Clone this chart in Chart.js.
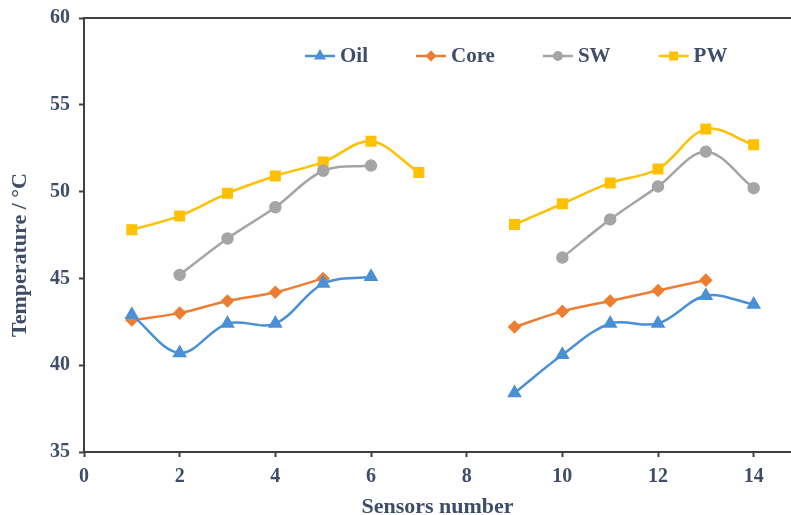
<!DOCTYPE html>
<html>
<head>
<meta charset="utf-8">
<script src="https://cdn.jsdelivr.net/npm/chart.js@4.4.1/dist/chart.umd.min.js"></script>
<style>
  html, body { margin: 0; padding: 0; background: #fff; }
  #wrap { width: 791px; height: 515px; position: relative; }
</style>
</head>
<body>
<div id="wrap"><canvas id="chart"></canvas></div>
<script>
// valeurs
const sensors = [1, 2, 3, 4, 5, 6, 7, 8, 9, 10, 11, 12, 13, 14];
const oil  = [42.9, 40.7, 42.4, 42.4, 44.7, 45.1, null, null, 38.4, 40.6, 42.4, 42.4, 44.0, 43.5];
const core = [42.6, 43.0, 43.7, 44.2, 45.0, null, null, null, 42.2, 43.1, 43.7, 44.3, 44.9, null];
const sw   = [null, 45.2, 47.3, 49.1, 51.2, 51.5, null, null, null, 46.2, 48.4, 50.3, 52.3, 50.2];
const pw   = [47.8, 48.6, 49.9, 50.9, 51.7, 52.9, 51.1, null, 48.1, 49.3, 50.5, 51.3, 53.6, 52.7];
const xTicks = [0, 2, 4, 6, 8, 10, 12, 14];
const yTicks = [35, 40, 45, 50, 55, 60];
const yTitle = 'Temperature / °C';

const textColor = '#3f4d69';
const axisColor = '#404040';
const serif = '"Liberation Serif", "Times New Roman", serif';
const font = { family: serif, weight: 'bold', size: 20 };

function points(values) {
    return sensors.map((s, i) => ({ x: s, y: values[i] }));
}

function serie(label, values, color, style, radius) {
    return {
        label: label,
        data: points(values),
        borderColor: color,
        backgroundColor: color,
        borderWidth: 2.5,
        pointStyle: style,
        pointRadius: radius,
        pointHoverRadius: radius,
        tension: 0.35,
        spanGaps: false
    };
}

// légende + titre Y + cadre du haut, dessinés à la main
const extras = {
    id: 'extras',
    beforeDatasetsDraw(chart) {
        const a = chart.chartArea;
        const ctx = chart.ctx;
        ctx.save();
        ctx.strokeStyle = axisColor;
        ctx.lineWidth = 2;
        ctx.beginPath();
        ctx.moveTo(a.left, a.top);
        ctx.lineTo(a.right, a.top);
        ctx.stroke();
        ctx.restore();
    },
    afterDraw(chart) {
        const ctx = chart.ctx;
        const y = chart.chartArea.top + 38;
        let x = 305;
        ctx.save();
        ctx.font = 'bold 21px ' + serif;
        ctx.textBaseline = 'middle';
        chart.data.datasets.forEach(ds => {
            ctx.strokeStyle = ds.borderColor;
            ctx.fillStyle = ds.borderColor;
            ctx.lineWidth = 2.5;
            ctx.beginPath();
            ctx.moveTo(x, y);
            ctx.lineTo(x + 30, y);
            ctx.stroke();
            Chart.helpers.drawPoint(ctx, {
                pointStyle: ds.pointStyle,
                radius: ds.pointRadius * 0.75,
                borderWidth: 1
            }, x + 15, y);
            ctx.fillStyle = textColor;
            ctx.fillText(ds.label, x + 35, y + 1);
            x += 35 + ctx.measureText(ds.label).width + 48;
        });

        // titre de l'axe Y
        ctx.translate(20, 255);
        ctx.rotate(-Math.PI / 2);
        ctx.textAlign = 'center';
        ctx.font = 'bold 22px ' + serif;
        ctx.fillText(yTitle, 0, 0);
        ctx.restore();
    }
};

const ctx = document.getElementById('chart').getContext('2d');
new Chart(ctx, {
    type: 'line',
    data: {
        datasets: [
            serie('Oil', oil, '#4a90d6', 'triangle', 6),
            serie('Core', core, '#ed7d31', 'rectRot', 5),
            serie('SW', sw, '#a5a5a5', 'circle', 5),
            serie('PW', pw, '#ffc000', 'rect', 6)
        ]
    },
    options: {
        responsive: true,
        maintainAspectRatio: false,
        animation: false,
        layout: { autoPadding: false, padding: { left: 0, right: 0, top: 18, bottom: 0 } },
        plugins: {
            legend: { display: false },
            tooltip: { enabled: false }
        },
        scales: {
            x: {
                type: 'linear',
                min: 0,
                max: 14.78,
                afterBuildTicks: scale => { scale.ticks = xTicks.map(v => ({ value: v })); },
                afterFit: scale => {
                    scale.height = 63;
                    scale.paddingLeft = 0;
                    scale.paddingRight = 0;
                },
                grid: { drawOnChartArea: false, drawTicks: true, tickLength: 5, tickColor: axisColor, tickWidth: 2 },
                border: { color: axisColor, width: 2 },
                ticks: { color: textColor, font: font, padding: 8, maxRotation: 0 },
                title: { display: true, text: 'Sensors number', color: textColor, font: { ...font, size: 22 }, padding: { top: 0, bottom: -6 } }
            },
            y: {
                min: 35,
                max: 60,
                afterBuildTicks: scale => { scale.ticks = yTicks.map(v => ({ value: v })); },
                afterFit: scale => {
                    scale.width = 84;
                    scale.paddingTop = 0;
                    scale.paddingBottom = 0;
                },
                grid: { drawOnChartArea: false, drawTicks: true, tickLength: 5, tickColor: axisColor, tickWidth: 2 },
                border: { color: axisColor, width: 2 },
                ticks: { color: textColor, font: font, padding: 9 }
            }
        }
    },
    plugins: [extras]
});
</script>
</body>
</html>
